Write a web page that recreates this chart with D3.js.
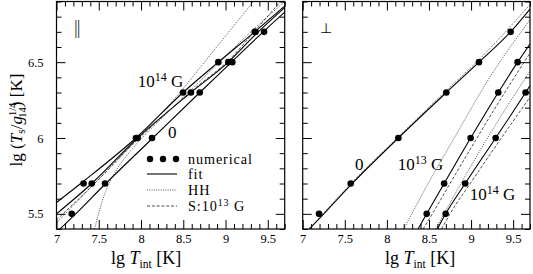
<!DOCTYPE html>
<html><head><meta charset="utf-8">
<script src="https://cdn.jsdelivr.net/npm/d3@7"></script>
<style>body{margin:0;background:#fff}svg{display:block}text{font-family:"Liberation Serif","DejaVu Serif",serif;fill:#000}</style>
</head><body><svg id="c" width="533" height="274"></svg>
<script>
// ---------- data ----------
const xMajor=[7,7.5,8,8.5,9,9.5];
const xLabels=["7","7.5","8","8.5","9","9.5"];
const yMajor=[5.5,6,6.5];
const yLabels=["5.5","6","6.5"];

// parallel field (left panel): numerical points
const parNum0T=[7.18,7.574,8.13,8.695,9.08,9.456];
const parNum0Ts=[5.5,5.7,6.0,6.3,6.5,6.7];
const parNum13T=[7.417,7.96,8.59,9.033,9.355];
const parNum13Ts=[5.7,6.0,6.3,6.5,6.7];
const parNum14T=[7.32,7.94,8.497,8.915,9.345];
const parNum14Ts=[5.7,6.0,6.3,6.5,6.7];
// parallel field curves [lgTint, lgTs]
const parFit0=[[7.04,5.4],[7.2,5.485],[7.574,5.695],[8.13,5.995],[8.695,6.3],[9.08,6.505],[9.456,6.705],[9.7,6.83]];
const parFit13=[[7.0,5.5],[7.417,5.7],[7.96,6.0],[8.59,6.3],[9.033,6.5],[9.35,6.68],[9.7,6.86]];
const parFit14=[[7.0,5.575],[7.32,5.715],[7.94,6.0],[8.497,6.3],[8.915,6.5],[9.345,6.7],[9.7,6.87]];
const parS13=[[7.0,5.46],[7.45,5.7],[7.98,6.0],[8.6,6.31],[9.05,6.52],[9.4,6.74],[9.65,6.9]];
const parHH13=[[7.45,5.4],[7.55,5.6],[7.7,5.78],[7.9,5.93],[8.3,6.16],[8.8,6.43],[9.3,6.7],[9.7,6.9]];
const parHH14=[[7.0,5.44],[7.5,5.73],[8.0,6.02],[8.46,6.3],[8.75,6.5],[9.33,6.9]];

// perpendicular field (right panel): numerical points
const perpNum0T=[7.194,7.57,8.136,8.706,9.094,9.47];
const perpNum0Ts=[5.5,5.7,6.0,6.3,6.5,6.7];
const perpNum13T=[8.473,8.68,8.995,9.323,9.553];
const perpNum13Ts=[5.5,5.7,6.0,6.3,6.5];
const perpNum14T=[8.698,8.93,9.292,9.648];
const perpNum14Ts=[5.5,5.7,6.0,6.3];
// perpendicular field curves
const perpFit0=[[7.078,5.4],[7.194,5.467],[7.57,5.69],[8.136,6.0],[8.706,6.3],[9.094,6.5],[9.47,6.7],[9.7,6.85]];
const perpHH0=[[7.08,5.4],[7.6,5.715],[8.15,6.015],[8.7,6.31],[9.1,6.52],[9.7,6.88]];
const perpFit13=[[8.37,5.4],[8.473,5.5],[8.68,5.7],[8.995,6.0],[9.323,6.3],[9.553,6.5],[9.7,6.62]];
const perpS13=[[8.43,5.4],[8.54,5.5],[8.75,5.7],[9.07,6.0],[9.4,6.3],[9.63,6.5],[9.7,6.56]];
const perpHH13=[[8.2,5.4],[8.5,5.71],[8.8,6.0],[9.2,6.38],[9.7,6.78]];
const perpFit14=[[8.6,5.4],[8.698,5.5],[8.93,5.7],[9.292,6.0],[9.648,6.3],[9.7,6.345]];
const perpS14=[[8.65,5.4],[8.75,5.5],[8.99,5.7],[9.36,6.0],[9.7,6.27]];
const perpHH14=[[8.58,5.4],[8.9,5.72],[9.25,6.05],[9.7,6.44]];

const legendItems=["numerical","fit","HH","S:10"];

// ---------- drawing ----------
const svg=d3.select("#c");
const xDom=[7,9.7], yDom=[5.4,6.9];
const styles={
  fit:{w:1.1,dash:null,c:"#000"},
  hh:{w:0.8,dash:"1,1.3",c:"#222"},
  s:{w:0.8,dash:"3,1.8",c:"#222"}
};
const minorX=d3.range(70,98).map(d=>d/10).filter(v=>!xMajor.some(m=>Math.abs(m-v)<1e-6));
const minorY=d3.range(54,70).map(d=>d/10).filter(v=>!yMajor.some(m=>Math.abs(m-v)<1e-6));

function panel(x0,x1,opt){
  const x=d3.scaleLinear().domain(xDom).range([x0,x1]);
  const y=d3.scaleLinear().domain(yDom).range([229,1.5]);
  const g=svg.append("g");
  const clipId="clip"+Math.round(x0);
  svg.append("clipPath").attr("id",clipId).append("rect")
    .attr("x",x0).attr("y",1.5).attr("width",x1-x0).attr("height",229-1.5);
  const plot=g.append("g").attr("clip-path",`url(#${clipId})`);
  const line=d3.line().x(d=>x(d[0])).y(d=>y(d[1])).curve(d3.curveMonotoneX);
  opt.curves.forEach(([data,st])=>{
    const s=styles[st];
    plot.append("path").attr("d",line(data)).attr("fill","none")
      .attr("stroke",s.c).attr("stroke-width",s.w).attr("stroke-dasharray",s.dash);
  });
  opt.points.forEach(([T,Ts])=>{
    plot.selectAll(null).data(T.map((t,i)=>[t,Ts[i]])).enter().append("circle")
      .attr("cx",d=>x(d[0])).attr("cy",d=>y(d[1])).attr("r",3.3).attr("fill","#000");
  });
  const mk=(axis,scale,vals,size)=>axis(scale).tickValues(vals).tickSizeInner(-size).tickSizeOuter(0).tickFormat("");
  g.append("g").attr("transform","translate(0,229)")
    .call(d3.axisBottom(x).tickValues(xMajor).tickSizeInner(-9).tickSizeOuter(0).tickPadding(5).tickFormat((d,i)=>xLabels[i]));
  g.append("g").attr("transform","translate(0,229)").call(mk(d3.axisBottom,x,minorX,5));
  g.append("g").attr("transform","translate(0,1.5)").call(mk(d3.axisTop,x,xMajor,9));
  g.append("g").attr("transform","translate(0,1.5)").call(mk(d3.axisTop,x,minorX,5));
  g.append("g").attr("transform",`translate(${x0},0)`)
    .call(d3.axisLeft(y).tickValues(yMajor).tickSizeInner(-9).tickSizeOuter(0).tickPadding(13)
      .tickFormat((d,i)=>opt.yLabels?yLabels[i]:""));
  g.append("g").attr("transform",`translate(${x0},0)`).call(mk(d3.axisLeft,y,minorY,5));
  g.append("g").attr("transform",`translate(${x1},0)`).call(mk(d3.axisRight,y,yMajor,9));
  g.append("g").attr("transform",`translate(${x1},0)`).call(mk(d3.axisRight,y,minorY,5));
  g.selectAll(".domain").remove();
  g.selectAll(".tick line").attr("stroke","#000").attr("stroke-width",1);
  g.selectAll(".tick text").style("font-family","'Liberation Serif',serif").style("font-size","12.5px").attr("fill","#000");
  g.append("rect").attr("x",x0).attr("y",1.5).attr("width",x1-x0).attr("height",229-1.5)
    .attr("fill","none").attr("stroke","#000").attr("stroke-width",1.2);
  // x title
  const t=g.append("text").attr("x",opt.xTitleX).attr("y",264).style("font-size","18px");
  t.append("tspan").text("lg ");
  t.append("tspan").style("font-style","italic").text("T");
  t.append("tspan").attr("dy",4).style("font-size","11.5px").text("int");
  t.append("tspan").attr("dy",-4).text("  [K]");
  return {x,y,g};
}

const L=panel(56.5,284.7,{yLabels:true,xTitleX:111,
  curves:[[parFit0,"fit"],[parFit13,"fit"],[parFit14,"fit"],[parS13,"s"],[parHH13,"hh"],[parHH14,"hh"]],
  points:[[parNum0T,parNum0Ts],[parNum13T,parNum13Ts],[parNum14T,parNum14Ts]]});
const R=panel(302.7,530,{yLabels:false,xTitleX:385,
  curves:[[perpFit0,"fit"],[perpHH0,"hh"],[perpFit13,"fit"],[perpS13,"s"],[perpHH13,"hh"],[perpFit14,"fit"],[perpS14,"s"],[perpHH14,"hh"]],
  points:[[perpNum0T,perpNum0Ts],[perpNum13T,perpNum13Ts],[perpNum14T,perpNum14Ts]]});

// panel annotations
function bLabel(P,xv,yv,exp){
  const t=P.g.append("text").attr("x",P.x(xv)).attr("y",P.y(yv)).style("font-size","17px");
  t.append("tspan").text("10");
  t.append("tspan").attr("dy",-6).style("font-size","12px").text(exp);
  t.append("tspan").attr("dy",6).text(" G");
}
bLabel(L,7.96,6.336,"14");
L.g.append("text").attr("x",L.x(8.32)).attr("y",L.y(6.0)).style("font-size","17px").text("0");
R.g.append("text").attr("x",R.x(7.62)).attr("y",R.y(5.79)).style("font-size","17px").text("0");
bLabel(R,8.13,5.79,"13");
bLabel(R,8.985,5.59,"14");
L.g.append("text").attr("x",73).attr("y",34).style("font-family","'DejaVu Sans'").style("font-size","17px").style("font-weight","300").text("\u2016");
R.g.append("text").attr("x",320).attr("y",33).style("font-family","'DejaVu Sans'").style("font-size","14px").text("\u22A5");

// legend
const lg=svg.append("g");
[150,163,176].forEach(cx=>lg.append("circle").attr("cx",cx).attr("cy",159).attr("r",3.2).attr("fill","#000"));
[["fit",174],["hh",190],["s",206]].forEach(([st,yy])=>{
  const s=styles[st];
  lg.append("line").attr("x1",147).attr("x2",177).attr("y1",yy).attr("y2",yy)
    .attr("stroke",s.c).attr("stroke-width",s.w).attr("stroke-dasharray",s.dash);
});
const fs="14.2px", ls="0.9px";
lg.append("text").attr("x",188).attr("y",163.5).style("font-size",fs).style("letter-spacing",ls).text(legendItems[0]);
lg.append("text").attr("x",188).attr("y",179).style("font-size",fs).style("letter-spacing",ls).text(legendItems[1]);
lg.append("text").attr("x",188).attr("y",195).style("font-size",fs).style("letter-spacing",ls).text(legendItems[2]);
const st=lg.append("text").attr("x",188).attr("y",211).style("font-size",fs).style("letter-spacing",ls);
st.append("tspan").text(legendItems[3]);
st.append("tspan").attr("dy",-5).style("font-size","10px").text("13");
st.append("tspan").attr("dy",5).text(" G");

// y title
const yt=svg.append("text").attr("transform","translate(22,120) rotate(-90)").attr("text-anchor","middle").style("font-size","17px");
yt.append("tspan").text("lg (");
yt.append("tspan").style("font-style","italic").text("T");
yt.append("tspan").attr("dy",3).style("font-size","11.5px").text("s");
yt.append("tspan").attr("dy",-3).text("/");
yt.append("tspan").style("font-style","italic").text("g");
yt.append("tspan").attr("dy",-6).style("font-size","10.5px").text("1/4");
yt.append("tspan").attr("dx",-15).attr("dy",10).style("font-size","10.5px").text("14");
yt.append("tspan").attr("dy",-4).text(") [K]");
</script></body></html>
